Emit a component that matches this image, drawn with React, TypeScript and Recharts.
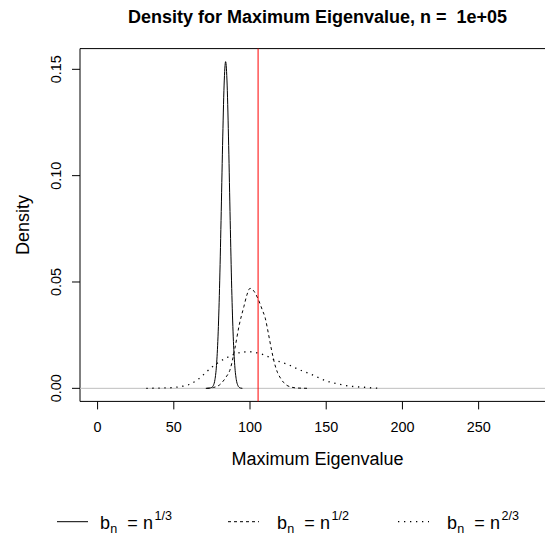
import {
  ComposedChart,
  Line,
  XAxis,
  YAxis,
  ReferenceLine,
  ReferenceArea,
  Legend,
  Customized,
} from "recharts";

// tick values
const xTicks = [0, 50, 100, 150, 200, 250];
const yTicks = [0, 0.05, 0.1, 0.15];

// b_n = n^(1/3)  (solid)
const cubeX = [71, 72, 73, 74, 75, 76, 77, 78, 79, 80, 81, 82, 83, 84, 85, 86, 87, 88, 89, 90, 91, 92, 93, 94, 95];
const cubeY = [0, 0.00002, 0.00005, 0.0002, 0.0005, 0.0014, 0.0041, 0.0107, 0.0242, 0.047, 0.0789, 0.1142, 0.1426, 0.1536, 0.1426, 0.1142, 0.0789, 0.047, 0.0242, 0.0107, 0.0041, 0.0014, 0.0004, 0.0001, 0];

// b_n = n^(1/2)  (dashed)
const sqrtX = [71.5, 76, 80, 84, 87, 90, 93, 96, 98, 100, 102, 105, 108, 110, 112, 114, 116, 118, 120, 122, 124, 127, 130, 135, 139];
const sqrtY = [0, 0.0004, 0.0016, 0.005, 0.009, 0.0185, 0.03, 0.0385, 0.044, 0.047, 0.0462, 0.0425, 0.037, 0.033, 0.026, 0.0185, 0.012, 0.0075, 0.0048, 0.0028, 0.0015, 0.0006, 0.0002, 0.00005, 0];

// b_n = n^(2/3)  (dotted)
const twoThirdX = [32, 40, 45, 50, 55, 60, 65, 70, 75, 80, 85, 90, 95, 100, 105, 110, 115, 120, 125, 130, 135, 140, 145, 150, 155, 160, 165, 170, 175, 180, 186];
const twoThirdY = [0, 0.0001, 0.0002, 0.0004, 0.0009, 0.0018, 0.0037, 0.0068, 0.01, 0.0125, 0.0145, 0.0161, 0.017, 0.0172, 0.0166, 0.0155, 0.0137, 0.0124, 0.0112, 0.0095, 0.008, 0.0066, 0.005, 0.0035, 0.0025, 0.0017, 0.0011, 0.0007, 0.0005, 0.0002, 0];

const observedMax = 105.3;
const legendExps = ["1/3", "1/2", "2/3"];

const xDomain: [number, number] = [-11.54, 300.1];
const yDomain: [number, number] = [-0.006144, 0.15974];

const FONT = "'Liberation Sans', Arial, Helvetica, sans-serif";

const toPoints = (xs: number[], ys: number[]) => xs.map((x, i) => ({ x, y: ys[i] }));

const XTick = ({ x, payload }: any) => (
  <text x={x} y={432} textAnchor="middle" fontSize={14.4} fontFamily={FONT} fill="#000">
    {payload.value}
  </text>
);

const YTick = ({ y, payload }: any) => (
  <text
    x={61.5}
    y={y}
    transform={`rotate(-90 61.5 ${y})`}
    textAnchor="middle"
    fontSize={14.4}
    fontFamily={FONT}
    fill="#000"
  >
    {Number(payload.value).toFixed(2)}
  </text>
);

const legendStyles = [
  { x1: 57, x2: 88, tx: 100, dash: undefined, w: 1 },
  { x1: 228, x2: 259, tx: 277, dash: "3 3", w: 1 },
  { x1: 398, x2: 429, tx: 447, dash: "1.3 4.7", w: 1.3 },
];

const LegendBox = () => (
  <svg width={545} height={39} style={{ display: "block" }}>
    {legendExps.map((exp, i) => {
      const s = legendStyles[i];
      const base = 28.5;
      return (
        <g key={exp} fontFamily={FONT} fill="#000">
          <line x1={s.x1} x2={s.x2} y1={21.7} y2={21.7} stroke="#000" strokeWidth={s.w} strokeDasharray={s.dash} />
          <text x={s.tx} y={base} fontSize={18}>b</text>
          <text x={s.tx + 10.3} y={base + 4.5} fontSize={12.6}>n</text>
          <text x={s.tx + 27.3} y={base} fontSize={18}>=</text>
          <text x={s.tx + 43} y={base} fontSize={18}>n</text>
          <text x={s.tx + 54.5} y={base - 8.3} fontSize={12.6}>{exp}</text>
        </g>
      );
    })}
  </svg>
);

const Title = () => (
  <text x={317.5} y={22.5} textAnchor="middle" fontSize={18} fontWeight="bold" fontFamily={FONT} fill="#000">
    {"Density for Maximum Eigenvalue, n =\u00a0 1e+05"}
  </text>
);

export default function App() {
  return (
    <div style={{ position: "absolute", left: 0, top: 0, width: 545, height: 539, overflow: "hidden", background: "#fff" }}>
      <ComposedChart width={600} height={539} margin={{ top: 48.6, right: 45, left: 0, bottom: 97.6 }}>
        <XAxis
          dataKey="x"
          type="number"
          domain={xDomain}
          allowDataOverflow
          ticks={xTicks}
          interval={0}
          height={40}
          axisLine={false}
          tickLine={{ stroke: "#000" }}
          tickSize={8}
          tick={<XTick />}
          label={{
            content: () => (
              <text x={317.5} y={465} textAnchor="middle" fontSize={18} fontFamily={FONT} fill="#000">
                Maximum Eigenvalue
              </text>
            ),
          }}
        />
        <YAxis
          dataKey="y"
          type="number"
          domain={yDomain}
          allowDataOverflow
          ticks={yTicks}
          interval={0}
          width={80}
          axisLine={false}
          tickLine={{ stroke: "#000" }}
          tickSize={8}
          tick={<YTick />}
          label={{
            content: () => (
              <text
                x={28.5}
                y={225}
                transform="rotate(-90 28.5 225)"
                textAnchor="middle"
                fontSize={18}
                fontFamily={FONT}
                fill="#000"
              >
                Density
              </text>
            ),
          }}
        />
        <ReferenceArea
          x1={xDomain[0]}
          x2={xDomain[1]}
          y1={yDomain[0]}
          y2={yDomain[1]}
          fill="none"
          fillOpacity={0}
          stroke="#000"
          strokeWidth={1}
          ifOverflow="visible"
        />
        <ReferenceLine y={0} stroke="#BEBEBE" strokeWidth={1} />
        <Line
          data={toPoints(cubeX, cubeY)}
          dataKey="y"
          name="n^(1/3)"
          type="monotone"
          stroke="#000"
          strokeWidth={1}
          dot={false}
          isAnimationActive={false}
        />
        <Line
          data={toPoints(sqrtX, sqrtY)}
          dataKey="y"
          name="n^(1/2)"
          type="monotone"
          stroke="#000"
          strokeWidth={1}
          strokeDasharray="3 3"
          dot={false}
          isAnimationActive={false}
        />
        <Line
          data={toPoints(twoThirdX, twoThirdY)}
          dataKey="y"
          name="n^(2/3)"
          type="monotone"
          stroke="#000"
          strokeWidth={1.3}
          strokeDasharray="1.3 4.7"
          dot={false}
          isAnimationActive={false}
        />
        <ReferenceLine x={observedMax} stroke="#FF0000" strokeWidth={1} />
        <Legend
          layout="horizontal"
          verticalAlign="middle"
          align="center"
          wrapperStyle={{ top: 500, left: 0, width: 545, height: 39 }}
          content={() => <LegendBox />}
        />
        <Customized component={<Title />} />
      </ComposedChart>
    </div>
  );
}
